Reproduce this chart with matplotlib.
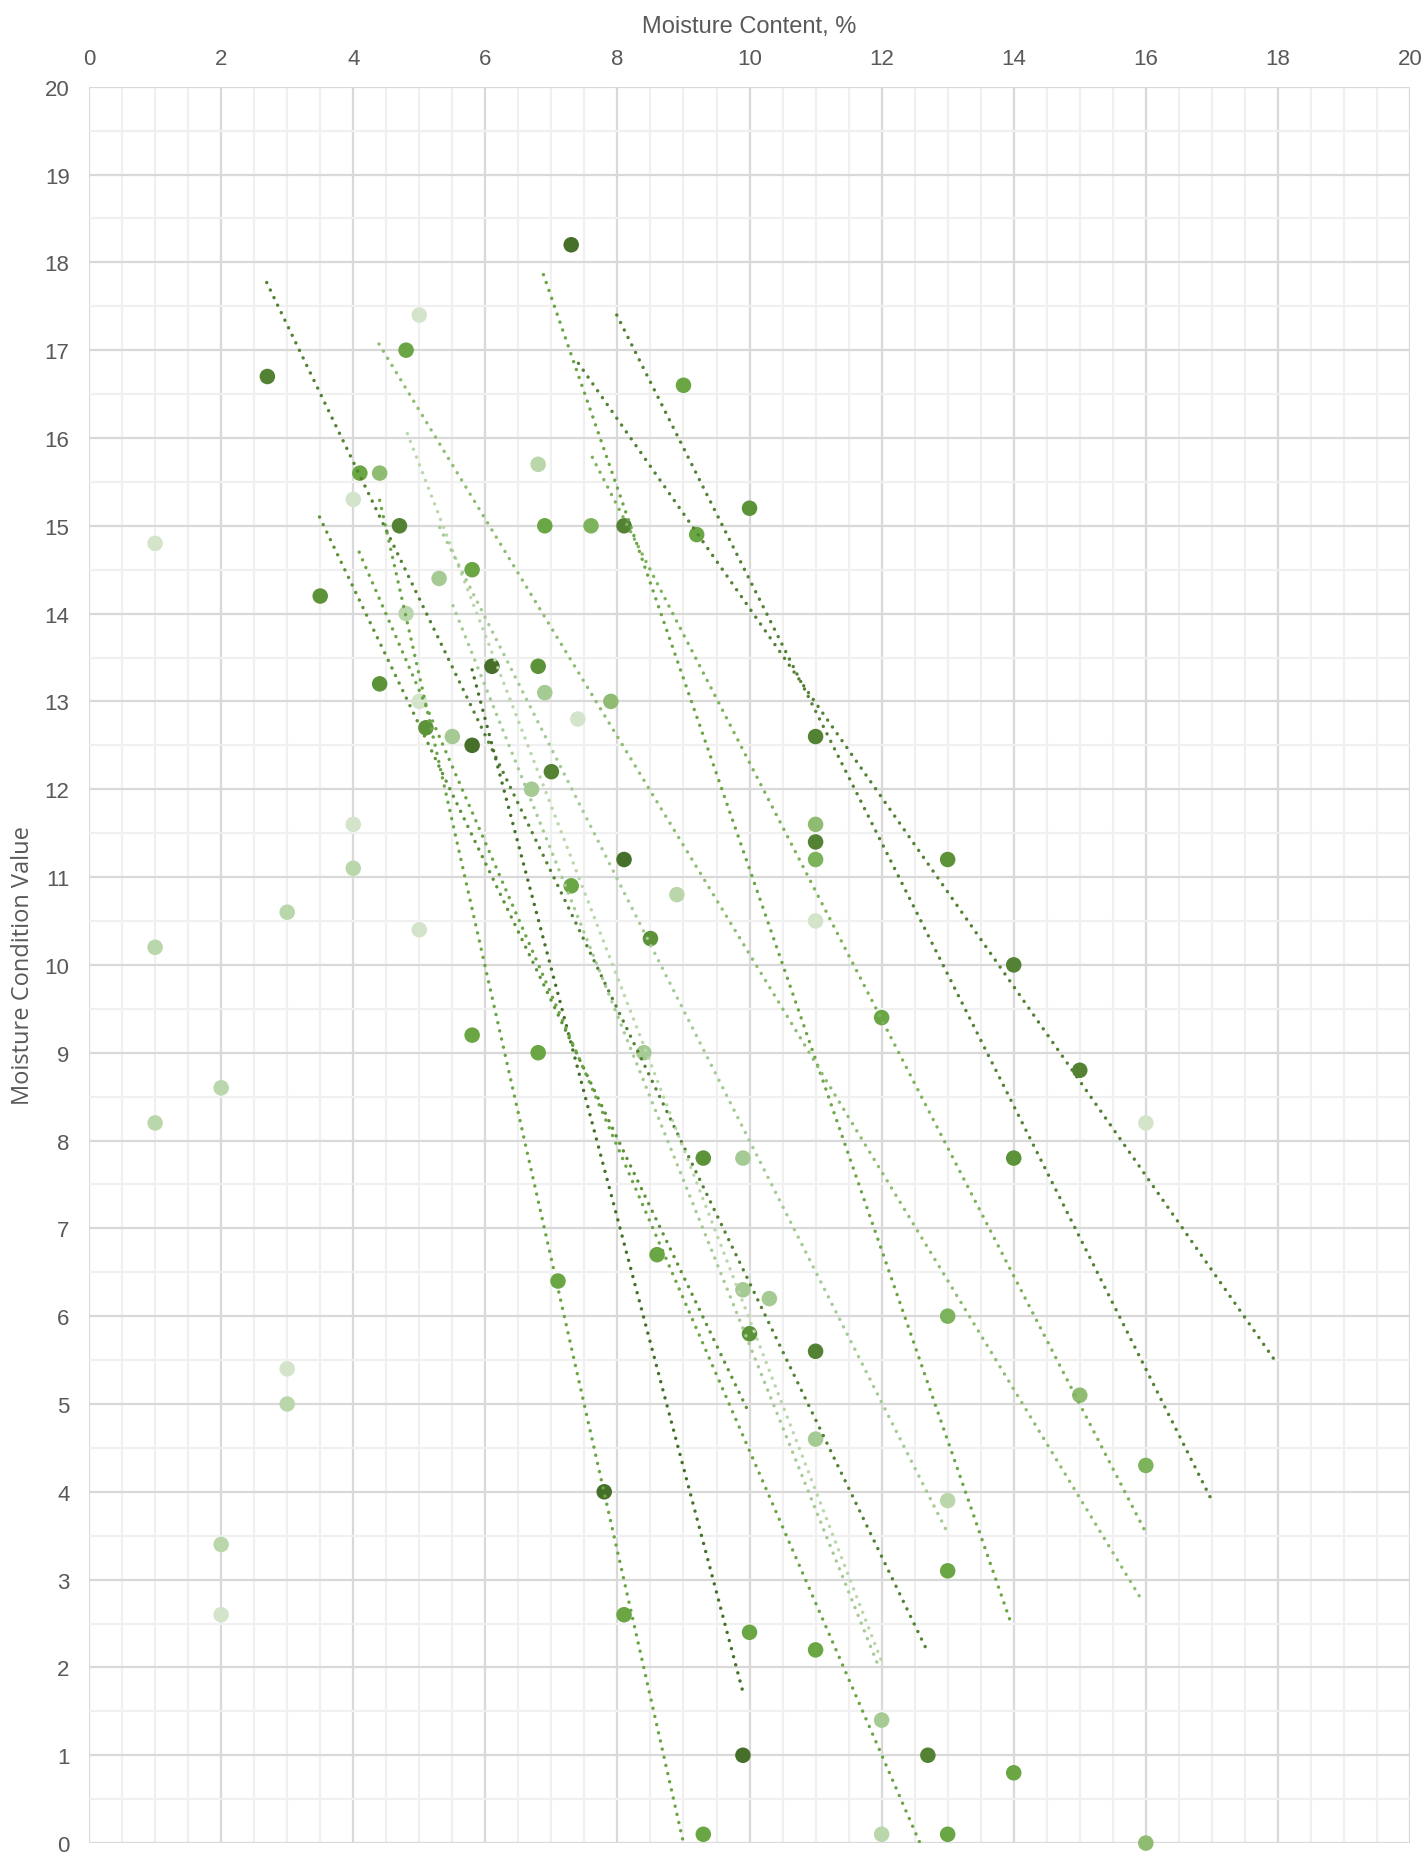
import matplotlib.pyplot as plt
from matplotlib.ticker import MultipleLocator

plt.rcParams['font.family'] = ['Liberation Sans Narrow', 'Liberation Sans', 'DejaVu Sans']

# green shades, darkest -> lightest
shades = ['#466f2a', '#548235', '#5c9338', '#6aa643', '#7db45b',
          '#8fbc72', '#a6ca94', '#bad7ac', '#d3e4ca']

# points, grouped by shade
darkest_x = [5.8, 6.1, 7.3, 7.8, 8.1, 9.9]
darkest_y = [12.5, 13.4, 18.2, 4.0, 11.2, 1.0]
dark_x = [2.7, 4.7, 7.0, 8.1, 11, 11, 11, 12.7, 14, 15]
dark_y = [16.7, 15.0, 12.2, 15.0, 12.6, 11.4, 5.6, 1.0, 10.0, 8.8]
meddark_x = [3.5, 4.4, 5.1, 6.8, 8.5, 9.3, 10.0, 10.0, 13, 14]
meddark_y = [14.2, 13.2, 12.7, 13.4, 10.3, 7.8, 15.2, 5.8, 11.2, 7.8]
medium_x = [4.1, 4.8, 5.8, 5.8, 6.9, 6.8, 7.1, 7.3, 8.1, 8.6, 9.0, 9.2, 9.3,
            10.0, 11, 12, 13, 13, 14]
medium_y = [15.6, 17.0, 14.5, 9.2, 15.0, 9.0, 6.4, 10.9, 2.6, 6.7, 16.6, 14.9, 0.1,
            2.4, 2.2, 9.4, 3.1, 0.1, 0.8]
medlight_x = [7.6, 11, 13, 16]
medlight_y = [15.0, 11.2, 6.0, 4.3]
lightmed_x = [4.4, 7.9, 11, 15, 16]
lightmed_y = [15.6, 13.0, 11.6, 5.1, 0.0]
pale_x = [5.3, 5.5, 6.7, 6.9, 8.4, 9.9, 9.9, 10.3, 11, 12]
pale_y = [14.4, 12.6, 12.0, 13.1, 9.0, 7.8, 6.3, 6.2, 4.6, 1.4]
light_x = [1, 1, 2, 2, 3, 3, 4, 4.8, 6.8, 8.9, 12, 13]
light_y = [10.2, 8.2, 8.6, 3.4, 10.6, 5.0, 11.1, 14.0, 15.7, 10.8, 0.1, 3.9]
vlight_x = [1, 2, 3, 4, 4, 5, 5, 5, 7.4, 11, 16]
vlight_y = [14.8, 2.6, 5.4, 15.3, 11.6, 17.4, 13.0, 10.4, 12.8, 10.5, 8.2]

groups = [(darkest_x, darkest_y), (dark_x, dark_y), (meddark_x, meddark_y),
          (medium_x, medium_y), (medlight_x, medlight_y), (lightmed_x, lightmed_y),
          (pale_x, pale_y), (light_x, light_y), (vlight_x, vlight_y)]

# linear trendlines: start/end values and shade index
trend_x0 = [2.69, 5.8, 7.99, 7.41, 6.88, 3.49, 4.09, 4.4, 4.39, 4.82, 5.31, 5.51, 7.62]
trend_y0 = [17.77, 13.36, 17.4, 16.85, 17.86, 15.1, 14.7, 15.29, 17.07, 16.05, 14.98, 14.09, 15.78]
trend_x1 = [12.67, 9.9, 17.0, 17.95, 13.97, 9.99, 12.58, 9.0, 15.96, 12.02, 12.98, 11.96, 15.99]
trend_y1 = [2.22, 1.72, 3.9, 5.5, 2.48, 4.9, 0.0, 0.0, 2.74, 2.03, 3.56, 2.0, 3.55]
trend_shade = [1, 0, 1, 1, 3, 2, 3, 3, 5, 7, 6, 6, 4]

fig = plt.figure(figsize=(14.27, 18.58), dpi=100)
ax = fig.add_axes([0.0624, 0.0075, 0.9257, 0.9453])

for (gx, gy), col in zip(groups, shades):
    ax.scatter(gx, gy, s=125, color=col, edgecolors='none', zorder=3, clip_on=False)

for x0, y0, x1, y1, si in zip(trend_x0, trend_y0, trend_x1, trend_y1, trend_shade):
    ax.plot([x0, x1], [y0, y1], color=shades[si], linewidth=2.5,
            linestyle=(0, (0.01, 2.4)), dash_capstyle='round', zorder=4)

ax.set_xlim(0, 20)
ax.set_ylim(0, 20)
ax.xaxis.set_major_locator(MultipleLocator(2))
ax.xaxis.set_minor_locator(MultipleLocator(0.5))
ax.yaxis.set_major_locator(MultipleLocator(1))
ax.yaxis.set_minor_locator(MultipleLocator(0.5))
ax.grid(which='minor', color='#f0f0f0', linewidth=1.6, zorder=0)
ax.grid(which='major', color='#d9d9d9', linewidth=1.6, zorder=1)
ax.set_axisbelow(True)
for sp in ax.spines.values():
    sp.set_visible(False)

ax.xaxis.tick_top()
ax.xaxis.set_label_position('top')
ax.tick_params(which='both', length=0)
ax.tick_params(axis='x', pad=13, labelsize=16, labelcolor='#595959')
ax.tick_params(axis='y', pad=14, labelsize=16, labelcolor='#595959')

ax.set_xlabel('Moisture Content, %', fontsize=17, color='#595959', labelpad=11)
ax.set_ylabel('Moisture Condition Value', fontsize=17, color='#595959', labelpad=7,
              family=['Open Sans', 'DejaVu Sans'])

fig.savefig('out.png', dpi=100)
